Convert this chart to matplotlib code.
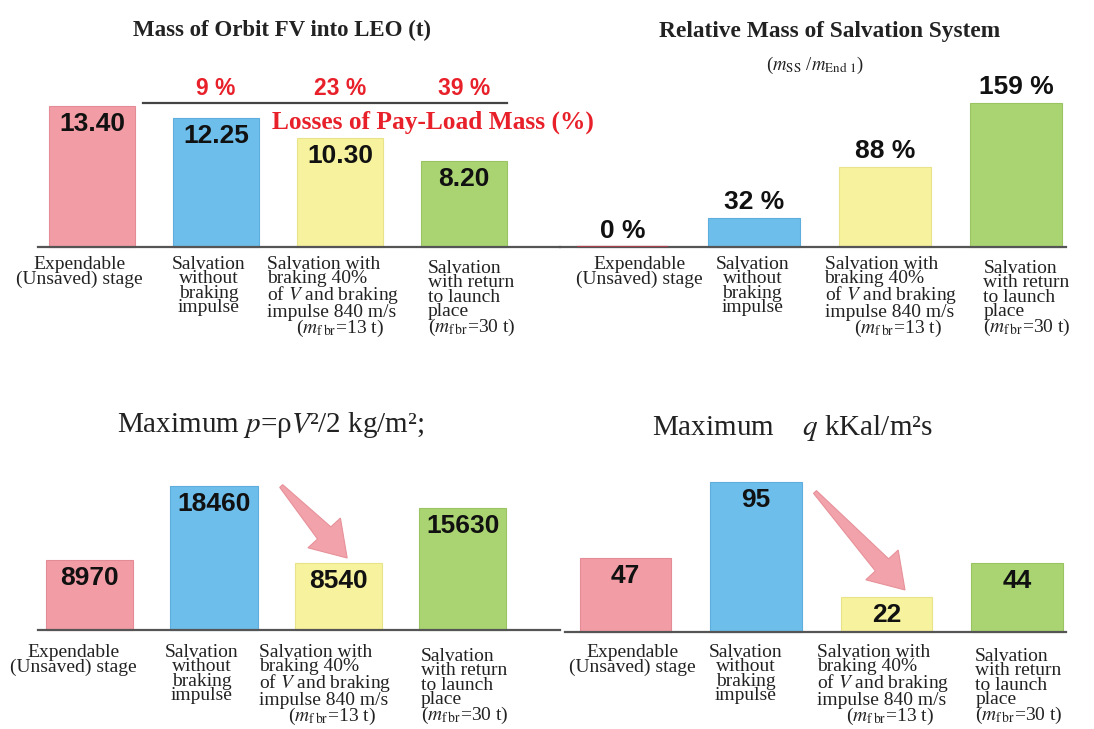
import matplotlib
matplotlib.use("Agg")
import matplotlib.pyplot as plt
import numpy as np
from matplotlib.patches import Polygon

plt.rcParams['font.family'] = ['Liberation Serif', 'DejaVu Serif']
plt.rcParams['mathtext.fontset'] = 'stix'

# stage recovery options (same four for every panel)
categories = [
    "Expendable\n(Unsaved) stage",
    "Salvation\nwithout\nbraking\nimpulse",
    "Salvation with\nbraking 40%\nof $V$ and braking\nimpulse 840 m/s\n      ($m_{\\rm f\\,br}$=13 t)",
    "Salvation\nwith return\nto launch\nplace\n($m_{\\rm f\\,br}$=30 t)",
]

mass_leo = [13.40, 12.25, 10.30, 8.20]          # t
payload_losses = [9, 23, 39]                    # %
salvation_mass = [0, 32, 88, 159]               # % of m_End 1
max_pressure = [8970, 18460, 8540, 15630]       # kg/m2
max_heat = [47, 95, 22, 44]                     # kKal/m2 s

bar_colors = ['#F29CA5', '#6EBEEB', '#F7F29D', '#AAD472']
arrow_color = '#F2A2AA'

W, H = 1094, 729
fig = plt.figure(figsize=(W / 100, H / 100), dpi=100)


def make_axes(x0, top, x1, base, xlim, ymax):
    ax = fig.add_axes([x0 / W, 1 - base / H, (x1 - x0) / W, (base - top) / H])
    ax.set_xlim(*xlim)
    ax.set_ylim(0, ymax)
    for s in ['top', 'right', 'left']:
        ax.spines[s].set_visible(False)
    ax.spines['bottom'].set_color('#555555')
    ax.spines['bottom'].set_linewidth(1.6)
    ax.set_xticks([])
    ax.set_yticks([])
    ax.patch.set_alpha(0)
    return ax


def draw_bars(ax, values):
    x = np.arange(len(values))
    ax.bar(x, values, width=0.70, color=bar_colors,
           edgecolor=['#E48C96', '#5DAEDC', '#E8E28A', '#9AC462'],
           linewidth=0.8, zorder=2, clip_on=False)
    return x


def value_labels(ax, x, values, texts, inside=True):
    for xi, v, t in zip(x, values, texts):
        if inside:
            ax.annotate(t, xy=(xi, v), xytext=(0, -6), textcoords='offset pixels',
                        ha='center', va='top', fontsize=19, fontweight='bold',
                        family='Liberation Sans', color='#111111', zorder=4)
        else:
            ax.annotate(t, xy=(xi, v), xytext=(0, 4), textcoords='offset pixels',
                        ha='center', va='bottom', fontsize=19, fontweight='bold',
                        family='Liberation Sans', color='#111111', zorder=4)


def category_labels(ax, spots):
    # spots: (x, ha, pixel drop below the baseline) for each category
    for text, (xp, ha, drop) in zip(categories, spots):
        ax.annotate(text, xy=(xp, 0), xytext=(0, -drop), textcoords='offset pixels',
                    ha=ha, va='top', multialignment=ha,
                    fontsize=14, linespacing=0.8, color='#222222',
                    annotation_clip=False)


def fat_arrow(ax, start, end, head_len=34, head_half=22, neck_half=9, tail_half=2):
    # tapered block arrow, built in pixel space then mapped back to data
    p0 = ax.transData.transform(start)
    p1 = ax.transData.transform(end)
    d = p1 - p0
    L = np.hypot(*d)
    u = d / L
    n = np.array([-u[1], u[0]])
    b = p1 - u * head_len
    pts = [p0 + n * tail_half, b + n * neck_half, b + n * head_half, p1,
           b - n * head_half, b - n * neck_half, p0 - n * tail_half]
    pts = ax.transData.inverted().transform(np.array(pts))
    ax.add_patch(Polygon(pts, closed=True, facecolor=arrow_color,
                         edgecolor='#E7919A', linewidth=0.8, zorder=3, clip_on=False))


# --- mass delivered to LEO ---
ax1 = make_axes(38, 60, 560, 247, (-0.435, 3.774), 17.73)
x = draw_bars(ax1, mass_leo)
value_labels(ax1, x, mass_leo, [f"{v:.2f}" for v in mass_leo])
category_labels(ax1, [(-0.10, 'center', 9), (0.94, 'center', 9),
                      (1.41, 'left', 9), (2.71, 'left', 13)])
ax1.plot([0.41, 3.35], [13.65, 13.65], color='#444444', lw=1.6, clip_on=False)
for xi, p in zip(x[1:], payload_losses):
    ax1.annotate(f"{p} %", xy=(xi, 13.65), xytext=(0, 3), textcoords='offset pixels',
                 ha='center', va='bottom', fontsize=16.5, fontweight='bold',
                 family='Liberation Sans', color='#E8202A')
ax1.text(1.45, 11.85, "Losses of Pay-Load Mass (%)", ha='left', va='center',
         fontsize=18.3, fontweight='bold', color='#E8202A')

# --- relative mass of salvation system ---
ax2 = make_axes(560, 60, 1066, 247, (-0.476, 3.38), 206.4)
x = draw_bars(ax2, salvation_mass)
ax2.bar(0, 0, width=0.70, edgecolor='#A8404E', linewidth=1.6, zorder=3)
value_labels(ax2, x, salvation_mass, [f"{v} %" for v in salvation_mass], inside=False)
category_labels(ax2, [(0.13, 'center', 9), (0.99, 'center', 9),
                      (1.54, 'left', 9), (2.75, 'left', 13)])

# --- maximum dynamic pressure ---
ax3 = make_axes(38, 460, 560, 630, (-0.414, 3.78), 21795)
x = draw_bars(ax3, max_pressure)
value_labels(ax3, x, max_pressure, [str(v) for v in max_pressure])
category_labels(ax3, [(-0.13, 'center', 14), (0.90, 'center', 14),
                      (1.36, 'left', 14), (2.66, 'left', 18)])
fat_arrow(ax3, (1.54, max_pressure[1]), (2.07, 9230))

# --- maximum heat flux ---
ax4 = make_axes(565, 460, 1066, 632, (-0.464, 3.376), 109.2)
x = draw_bars(ax4, max_heat)
value_labels(ax4, x, max_heat, [str(v) for v in max_heat])
category_labels(ax4, [(0.05, 'center', 12), (0.92, 'center', 12),
                      (1.47, 'left', 12), (2.68, 'left', 16)])
fat_arrow(ax4, (1.452, 88.9), (2.142, 26.7))

# titles
fig.text(282 / W, 1 - 30 / H, "Mass of Orbit FV into LEO (t)", ha='center', va='center',
         fontsize=16.5, fontweight='bold', color='#222222')
fig.text(830 / W, 1 - 32 / H, "Relative Mass of Salvation System", ha='center', va='center',
         fontsize=16.8, fontweight='bold', color='#222222')
fig.text(815 / W, 1 - 65 / H, "($m_{\\rm SS}$ /$m_{\\rm End\\ 1}$)", ha='center', va='center',
         fontsize=13.5, color='#222222')
fig.text(271 / W, 1 - 425 / H, "Maximum $p$=ρ$V$²/2 kg/m²;", ha='center', va='center',
         fontsize=21, color='#222222')
fig.text(792 / W, 1 - 428 / H, "Maximum    $q$ kKal/m²s", ha='center', va='center',
         fontsize=21, color='#222222')

fig.savefig("out.png", dpi=100)
